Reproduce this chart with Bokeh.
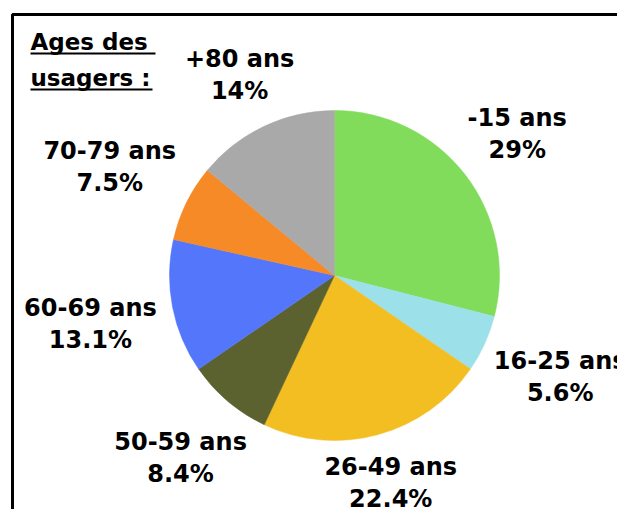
import math
from bokeh.plotting import figure
from bokeh.models import Range1d, ColumnDataSource
from bokeh.core.properties import value
from bokeh.embed import file_html
from bokeh.resources import INLINE

# ---- data ----
categories = ["-15 ans", "16-25 ans", "26-49 ans", "50-59 ans", "60-69 ans", "70-79 ans", "+80 ans"]
shares = [29, 5.6, 22.4, 8.4, 13.1, 7.5, 14]
colors = ["#80dc5a", "#9ce0e9", "#f3be22", "#5b622f", "#5476fb", "#f68a26", "#a9a9a9"]
title_lines = ["Ages des", "usagers :"]

W, H = 617, 509
FONT = "DejaVu Sans"

# small layout nudges for the outside labels (screen px, y downward)
NUDGE = {"-15 ans": (3, -7), "16-25 ans": (5, 8), "26-49 ans": (-7, -10),
         "50-59 ans": (3, 11), "60-69 ans": (-6, 6), "70-79 ans": (-7, -12),
         "+80 ans": (2, -1)}

p = figure(width=W, height=H, output_backend="svg", toolbar_location=None,
           x_range=Range1d(0, W), y_range=Range1d(0, H), min_border=0)
p.axis.visible = False
p.grid.visible = False
p.outline_line_color = None
p.background_fill_color = "white"

def sy(v):
    return H - v

# frame of the chart area
p.quad(left=[12], right=[900], top=[sy(14)], bottom=[-300],
       fill_color=None, line_color="black", line_width=3)

cx, cy, R = 334, sy(275), 165
total = sum(shares)
starts, ends, mids = [], [], []
cum = 0.0
for s in shares:
    a0 = math.pi / 2 - 2 * math.pi * cum / total
    cum += s
    a1 = math.pi / 2 - 2 * math.pi * cum / total
    starts.append(a0)
    ends.append(a1)
    mids.append((a0 + a1) / 2)

src = ColumnDataSource(dict(x=[cx] * len(shares), y=[cy] * len(shares),
                            start=starts, end=ends, color=colors))
p.wedge(x="x", y="y", radius=R, start_angle="start", end_angle="end",
        direction="clock", fill_color="color", line_color="color", line_width=0.5,
        source=src)

# labels placed outside each slice
lx, ly, names, pcts = [], [], [], []
for cat, s, m in zip(categories, shares, mids):
    dx, dy = math.cos(m), math.sin(m)
    ra = R + 10
    w = 15 * len(cat)
    h = 90 if dy > 0 else 100
    nx, ny = NUDGE.get(cat, (0, 0))
    lx.append(cx + ra * dx + dx * w / 2 + nx)
    ly.append(cy + ra * dy + dy * h / 2 - ny)
    names.append(cat)
    pcts.append(f"{s:g}%")

lsrc = ColumnDataSource(dict(x=lx, y=ly, name=names, pct=pcts))
p.text(x="x", y="y", text="name", source=lsrc, y_offset=-16,
       text_font=value(FONT), text_font_style="bold", text_font_size="24px",
       text_align="center", text_baseline="middle", text_color="black")
p.text(x="x", y="y", text="pct", source=lsrc, y_offset=16,
       text_font=value(FONT), text_font_style="bold", text_font_size="24px",
       text_align="center", text_baseline="middle", text_color="black")

# title with underline
p.text(x=[30, 30], y=[sy(41), sy(77)], text=title_lines,
       text_font=value(FONT), text_font_style="bold", text_font_size="23px",
       text_align="left", text_baseline="middle", text_color="black")
p.segment(x0=[30, 30], y0=[sy(53), sy(89)], x1=[155, 152], y1=[sy(53), sy(89)],
          line_color="black", line_width=2)

open("out.html", "w").write(file_html(p, INLINE))
